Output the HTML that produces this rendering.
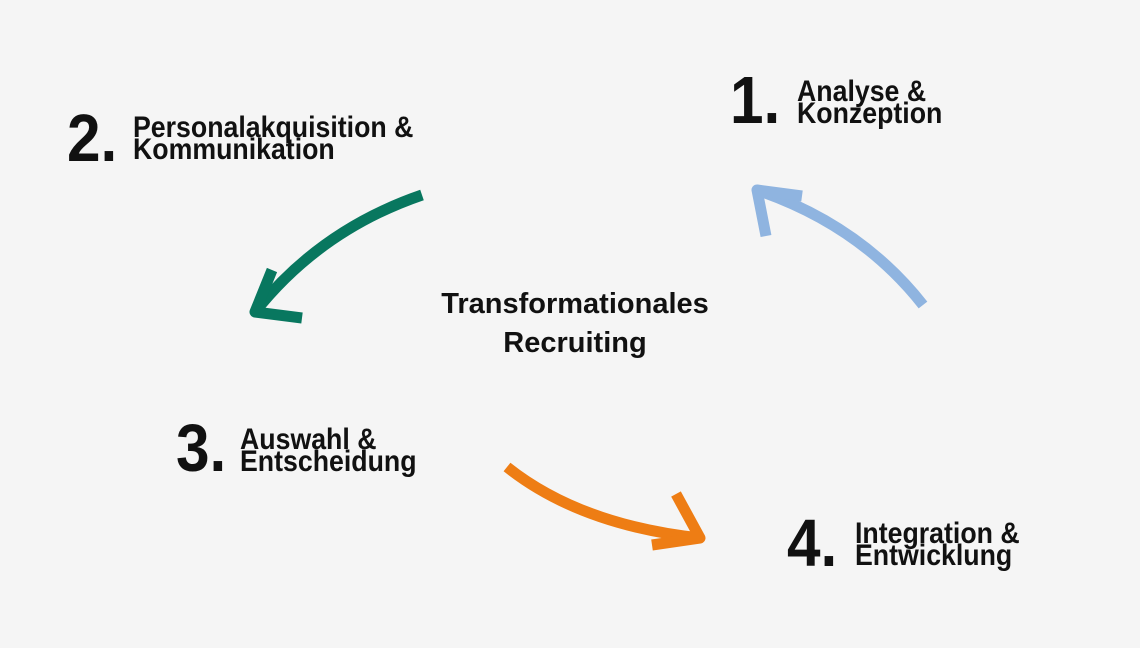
<!DOCTYPE html>
<html><head><style>
body{margin:0;width:1140px;height:648px;background:#f5f5f5;overflow:hidden;position:relative;font-family:"Liberation Sans",sans-serif;font-weight:bold;color:#111}
.n{position:absolute;font-size:67px;line-height:67px;transform:scaleX(0.9);transform-origin:0 0}
.t{position:absolute;font-size:30px;line-height:22px;transform:scaleX(0.89);transform-origin:0 0;white-space:nowrap}
.c{position:absolute;left:400px;top:285px;width:350px;text-align:center;font-size:29px;line-height:39px}
</style></head><body>
<svg width="1140" height="648" style="position:absolute;left:0;top:0">
<g fill="none" stroke-width="11" stroke-linejoin="round">
<path d="M422,195 Q320,230 255,312" stroke="#08775f"/>
<path d="M272,270 L255,312 L302,318" stroke="#08775f"/>
<path d="M923,305 Q860,225 757,190" stroke="#8fb4e0"/>
<path d="M766,236 L757,190 L802,196" stroke="#8fb4e0"/>
<path d="M507,467 Q580,525 700,538" stroke="#ee7d14"/>
<path d="M676,494 L700,538 L652,545" stroke="#ee7d14"/>
</g></svg>
<div class="n" style="left:730px;top:67px">1.</div>
<div class="t" style="left:797px;top:81px">Analyse &amp;<br>Konzeption</div>
<div class="n" style="left:67px;top:105px">2.</div>
<div class="t" style="left:133px;top:117px">Personalakquisition &amp;<br>Kommunikation</div>
<div class="n" style="left:176px;top:415px">3.</div>
<div class="t" style="left:240px;top:429px">Auswahl &amp;<br>Entscheidung</div>
<div class="n" style="left:787px;top:510px">4.</div>
<div class="t" style="left:855px;top:523px">Integration &amp;<br>Entwicklung</div>
<div class="c">Transformationales<br>Recruiting</div>
</body></html>
